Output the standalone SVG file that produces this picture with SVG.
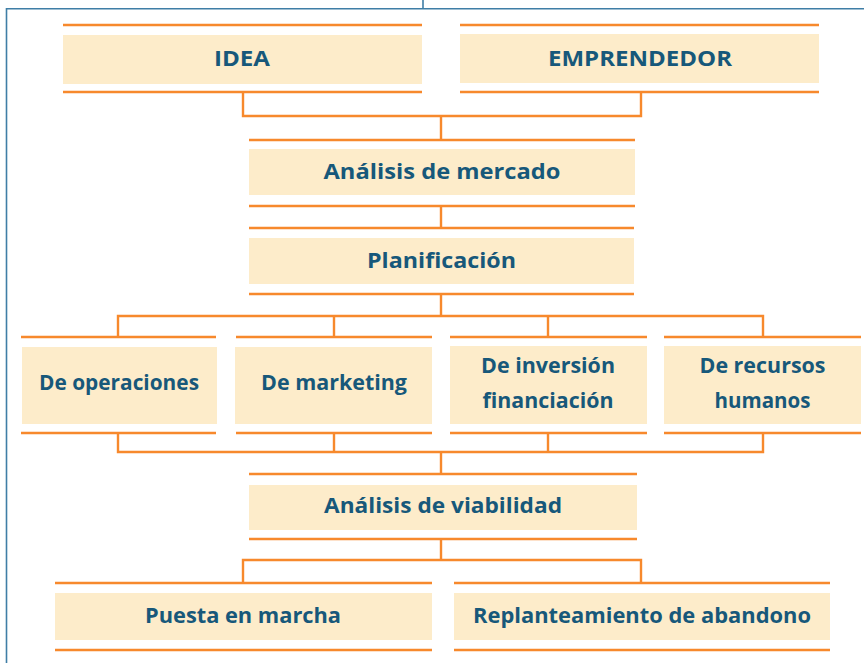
<svg xmlns="http://www.w3.org/2000/svg" width="864" height="663" viewBox="0 0 864 663">
<style>
.bg{fill:#fdecca;}
.ol{stroke:#f7892c;stroke-width:2.4;fill:none;}
.t{font-family:"Open Sans","Noto Sans","DejaVu Sans",sans-serif;font-weight:700;font-size:21px;fill:#17587a;text-anchor:middle;}
.frame{stroke:#3f7ea6;stroke-width:1.6;fill:none;}
</style>
<rect width="864" height="663" fill="#ffffff"/>
<g id="frame">
<path class="frame" d="M6.5 663 V8.8 H864"/>
<path class="frame" d="M423 0 V8.8"/>
</g>
<g id="connectors" class="ol">
<path d="M243 92 V116 H641 V92"/>
<path d="M441 116 V140"/>
<path d="M441 206 V228"/>
<path d="M441 294 V316"/>
<path d="M118 337 V316 H763 V337"/>
<path d="M334 316 V337"/>
<path d="M548 316 V337"/>
<path d="M118 433 V452 H763 V433"/>
<path d="M334 433 V452"/>
<path d="M548 433 V452"/>
<path d="M441 452 V474"/>
<path d="M441 539 V560"/>
<path d="M243 583 V560 H641 V583"/>
</g>
<g id="idea">
<path class="ol" d="M63 25 H422 M63 92 H422"/>
<rect class="bg" x="63" y="35" width="359" height="49"/>
<text class="t" x="242" y="66" textLength="56" lengthAdjust="spacingAndGlyphs">IDEA</text>
</g>
<g id="emprendedor">
<path class="ol" d="M460 25 H819 M460 92 H819"/>
<rect class="bg" x="460" y="34" width="359" height="49"/>
<text class="t" x="640" y="66" textLength="184" lengthAdjust="spacingAndGlyphs">EMPRENDEDOR</text>
</g>
<g id="analisis-mercado">
<path class="ol" d="M249 140 H635 M249 206 H635"/>
<rect class="bg" x="249" y="149" width="386" height="46"/>
<text class="t" x="442" y="179" textLength="237" lengthAdjust="spacingAndGlyphs">Análisis de mercado</text>
</g>
<g id="planificacion">
<path class="ol" d="M249 228 H634 M249 294 H634"/>
<rect class="bg" x="249" y="238" width="385" height="46"/>
<text class="t" x="441.5" y="268" textLength="149" lengthAdjust="spacingAndGlyphs">Planificación</text>
</g>
<g id="operaciones">
<path class="ol" d="M21 337 H216 M21 433 H216"/>
<rect class="bg" x="22" y="347" width="195" height="77"/>
<text class="t" x="119" y="390" textLength="160" lengthAdjust="spacingAndGlyphs">De operaciones</text>
</g>
<g id="marketing">
<path class="ol" d="M236 337 H432 M236 433 H432"/>
<rect class="bg" x="235" y="347" width="197" height="77"/>
<text class="t" x="334" y="390" textLength="146" lengthAdjust="spacingAndGlyphs">De marketing</text>
</g>
<g id="inversion">
<path class="ol" d="M450 337 H647 M450 433 H647"/>
<rect class="bg" x="450" y="346" width="197" height="78"/>
<text class="t" x="548" y="373" textLength="134" lengthAdjust="spacingAndGlyphs">De inversión</text>
<text class="t" x="548" y="408" textLength="131" lengthAdjust="spacingAndGlyphs">financiación</text>
</g>
<g id="recursos">
<path class="ol" d="M664 337 H861 M664 433 H861"/>
<rect class="bg" x="664" y="346" width="197" height="78"/>
<text class="t" x="762.5" y="373" textLength="126" lengthAdjust="spacingAndGlyphs">De recursos</text>
<text class="t" x="762.5" y="408" textLength="96" lengthAdjust="spacingAndGlyphs">humanos</text>
</g>
<g id="analisis-viabilidad">
<path class="ol" d="M249 474 H637 M249 539 H637"/>
<rect class="bg" x="249" y="485" width="388" height="45"/>
<text class="t" x="443" y="512.5" textLength="238" lengthAdjust="spacingAndGlyphs">Análisis de viabilidad</text>
</g>
<g id="puesta">
<path class="ol" d="M55 583 H432 M55 650 H432"/>
<rect class="bg" x="55" y="593" width="377" height="47"/>
<text class="t" x="243" y="622.5" textLength="196" lengthAdjust="spacingAndGlyphs">Puesta en marcha</text>
</g>
<g id="replanteamiento">
<path class="ol" d="M454 583 H830 M454 650 H830"/>
<rect class="bg" x="454" y="593" width="376" height="47"/>
<text class="t" x="642" y="622.5" textLength="338" lengthAdjust="spacingAndGlyphs">Replanteamiento de abandono</text>
</g>
</svg>
